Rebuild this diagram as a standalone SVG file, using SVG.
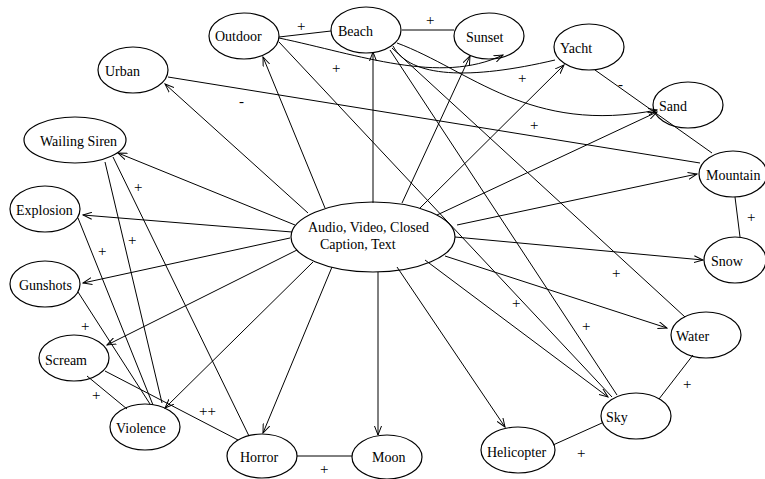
<svg xmlns="http://www.w3.org/2000/svg" width="765" height="479" viewBox="0 0 765 479">
<style>
.n ellipse{fill:none;stroke:#000;stroke-width:1.2}
text{font-family:"Liberation Serif","Times New Roman",serif;font-size:14px;fill:#000}
.e path,.e line{fill:none;stroke:#000;stroke-width:1}
.a{marker-end:url(#ah)}
.l{font-size:15px;fill:#000}
</style>
<defs>
<marker id="ah" markerWidth="10" markerHeight="8" refX="9" refY="4" orient="auto" markerUnits="userSpaceOnUse">
<path d="M0,0.5 L9,4 L0,7.5" fill="none" stroke="#000" stroke-width="1"/>
</marker>
</defs>
<rect width="765" height="479" fill="#fff"/>
<g class="e" id="connectors">
<line class="a" x1="308" y1="213" x2="165" y2="84"/>
<line class="a" x1="325" y1="208" x2="263" y2="57"/>
<line class="a" x1="373" y1="203" x2="373" y2="52"/>
<line class="a" x1="402" y1="203" x2="470" y2="56"/>
<line class="a" x1="420" y1="208" x2="564" y2="65"/>
<line class="a" x1="437" y1="215" x2="657" y2="112"/>
<line class="a" x1="457" y1="225" x2="697" y2="174"/>
<line class="a" x1="455" y1="237" x2="703" y2="260"/>
<line class="a" x1="445" y1="256" x2="667" y2="328"/>
<line class="a" x1="425" y1="260" x2="608" y2="397"/>
<line class="a" x1="397" y1="267" x2="505" y2="427"/>
<line class="a" x1="378" y1="272" x2="378" y2="435"/>
<line class="a" x1="332" y1="267" x2="263" y2="433"/>
<line class="a" x1="313" y1="262" x2="165" y2="408"/>
<line class="a" x1="297" y1="250" x2="107" y2="345"/>
<line class="a" x1="290" y1="238" x2="83" y2="283"/>
<line class="a" x1="292" y1="232" x2="83" y2="215"/>
<line class="a" x1="295" y1="225" x2="118" y2="153"/>
<line x1="279" y1="37" x2="331" y2="31"/>
<line x1="402" y1="30" x2="454" y2="30"/>
<path class="a" d="M279,38 C360,55 440,85 503,55"/>
<path d="M393,46 C410,78 470,80 555,60"/>
<path class="a" d="M397,43 C470,70 530,135 657,110"/>
<line x1="595" y1="70" x2="712" y2="153"/>
<line x1="168" y1="77" x2="700" y2="163"/>
<line x1="735" y1="197" x2="740" y2="237"/>
<line x1="693" y1="355" x2="659" y2="399"/>
<line x1="602" y1="423" x2="553" y2="445"/>
<line x1="297" y1="456" x2="352" y2="456"/>
<line x1="87" y1="376" x2="127" y2="409"/>
<line x1="105" y1="371" x2="238" y2="440"/>
<line x1="113" y1="157" x2="249" y2="436"/>
<line x1="105" y1="162" x2="162" y2="403"/>
<line x1="78" y1="218" x2="153" y2="405"/>
<line x1="78" y1="292" x2="150" y2="404"/>
<line x1="392" y1="48" x2="685" y2="317"/>
<line x1="390" y1="50" x2="617" y2="395"/>
<line x1="279" y1="42" x2="612" y2="397"/>
</g>
<g id="labels">
<text class="l" x="297" y="31">+</text>
<text class="l" x="426" y="25">+</text>
<text class="l" x="332" y="73">+</text>
<text class="l" x="518" y="83">+</text>
<text class="l" x="530" y="130">+</text>
<text class="l" x="618" y="89">-</text>
<text class="l" x="239" y="106">-</text>
<text class="l" x="747" y="222">+</text>
<text class="l" x="683" y="389">+</text>
<text class="l" x="577" y="458">+</text>
<text class="l" x="320" y="474">+</text>
<text class="l" x="92" y="400">+</text>
<text class="l" x="199" y="416">++</text>
<text class="l" x="134" y="192">+</text>
<text class="l" x="128" y="245">+</text>
<text class="l" x="98" y="256">+</text>
<text class="l" x="81" y="331">+</text>
<text class="l" x="512" y="308">+</text>
<text class="l" x="582" y="331">+</text>
<text class="l" x="612" y="278">+</text>
</g>
<g class="n" id="center"><ellipse cx="373" cy="237" rx="82" ry="35"/><text x="308" y="232">Audio, Video, Closed</text><text x="320" y="249">Caption, Text</text></g>
<g class="n" id="urban"><ellipse cx="133" cy="70" rx="35" ry="23"/><text x="105" y="76">Urban</text></g>
<g class="n" id="outdoor"><ellipse cx="244" cy="36" rx="35" ry="23"/><text x="215" y="41">Outdoor</text></g>
<g class="n" id="beach"><ellipse cx="366" cy="30" rx="35" ry="23"/><text x="338" y="36">Beach</text></g>
<g class="n" id="sunset"><ellipse cx="489" cy="36" rx="35" ry="23"/><text x="466" y="42">Sunset</text></g>
<g class="n" id="yacht"><ellipse cx="589" cy="47" rx="35" ry="23"/><text x="560" y="53">Yacht</text></g>
<g class="n" id="sand"><ellipse cx="688" cy="105" rx="35" ry="23"/><text x="659" y="111">Sand</text></g>
<g class="n" id="mountain"><ellipse cx="733" cy="174" rx="34" ry="23"/><text x="706" y="180">Mountain</text></g>
<g class="n" id="snow"><ellipse cx="735" cy="260" rx="31" ry="23"/><text x="711" y="266">Snow</text></g>
<g class="n" id="water"><ellipse cx="706" cy="335" rx="35" ry="23"/><text x="676" y="341">Water</text></g>
<g class="n" id="sky"><ellipse cx="636" cy="416" rx="35" ry="23"/><text x="606" y="422">Sky</text></g>
<g class="n" id="helicopter"><ellipse cx="518" cy="450" rx="37" ry="23"/><text x="487" y="457">Helicopter</text></g>
<g class="n" id="moon"><ellipse cx="387" cy="457" rx="35" ry="22"/><text x="372" y="462">Moon</text></g>
<g class="n" id="horror"><ellipse cx="262" cy="456" rx="35" ry="22"/><text x="240" y="462">Horror</text></g>
<g class="n" id="violence"><ellipse cx="145" cy="427" rx="35" ry="23"/><text x="116" y="433">Violence</text></g>
<g class="n" id="scream"><ellipse cx="74" cy="358" rx="35" ry="23"/><text x="45" y="365">Scream</text></g>
<g class="n" id="gunshots"><ellipse cx="45" cy="284" rx="35" ry="23"/><text x="19" y="290">Gunshots</text></g>
<g class="n" id="explosion"><ellipse cx="45" cy="209" rx="35" ry="23"/><text x="16" y="215">Explosion</text></g>
<g class="n" id="siren"><ellipse cx="75" cy="140" rx="51" ry="23"/><text x="40" y="146">Wailing Siren</text></g>
</svg>
